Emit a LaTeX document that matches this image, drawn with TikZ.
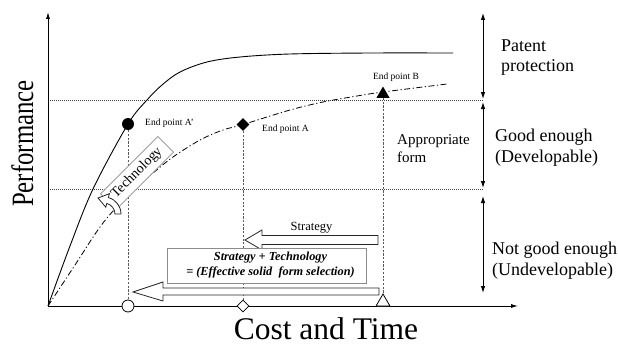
\documentclass[tikz,border=0pt]{standalone}
\usepackage{fontspec}
\setmainfont{Liberation Serif}
\usetikzlibrary{arrows.meta,shapes.geometric}
\begin{document}
\begin{tikzpicture}[x=1pt,y=-1pt,
  axis/.style={line width=0.9pt,-{Latex[length=7pt,width=4pt]}},
  guide/.style={black!75,line width=0.6pt,dash pattern=on 1pt off 1pt},
  vguide/.style={black!65,line width=0.8pt,dash pattern=on 2.2pt off 1.5pt},
  spanarrow/.style={line width=0.9pt,{Latex[length=7pt,width=4.5pt]}-{Latex[length=7pt,width=4.5pt]}},
  curveA/.style={line width=0.9pt},
  curveB/.style={line width=0.8pt,dash pattern=on 6pt off 2.5pt on 1.2pt off 2.5pt},
  fcirc/.style={circle,fill=black,inner sep=0pt,minimum size=12pt},
  ocirc/.style={circle,draw=black,fill=white,line width=0.8pt,inner sep=0pt,minimum size=12pt},
  fdiam/.style={diamond,fill=black,inner sep=0pt,minimum size=13pt},
  odiam/.style={diamond,draw=black,fill=white,line width=0.8pt,inner sep=0pt,minimum size=12pt},
  ftri/.style={regular polygon,regular polygon sides=3,fill=black,inner sep=0pt,minimum size=15pt},
  otri/.style={regular polygon,regular polygon sides=3,draw=black,fill=white,line width=0.8pt,inner sep=0pt,minimum size=16pt},
  blockarrow/.style={draw=black!85,fill=white,line width=0.8pt},
  graybox/.style={draw=black!45,fill=white,line width=0.7pt},
  lbl/.style={inner sep=0pt},
  small/.style={font=\fontsize{9.5}{11}\selectfont},
  side/.style={font=\fontsize{18}{21}\selectfont},
]
\useasboundingbox (0,0) rectangle (618,345);

% key points
\coordinate (O) at (48,306);
\coordinate (Ytop) at (48,12);
\coordinate (Xend) at (518,306);
\coordinate (g1l) at (48,100);  \coordinate (g1r) at (483,100);
\coordinate (g2l) at (48,189);  \coordinate (g2r) at (483,189);
\coordinate (r1t) at (483,13);  \coordinate (r1b) at (483,99);
\coordinate (r2t) at (483,102); \coordinate (r2b) at (483,188);
\coordinate (r3t) at (483,196); \coordinate (r3b) at (483,293);

% horizontal guides
\draw[guide] (g1l) -- (g1r);
\draw[guide] (g2l) -- (g2r);

% curves
\draw[curveA] plot[smooth,tension=0.55] coordinates {(48,306) (70,246) (93,189) (128,124) (147,100) (162,85) (180,72) (207,62) (240,57) (290,54) (370,53) (453,53)};
\draw[curveB] plot[smooth,tension=0.55] coordinates {(48,306) (75,265) (103,223) (133,190) (153,173) (173,157) (200,140) (223,130) (243,124.5) (290,110) (323,102) (357,96) (383,92) (447,84)};

% range arrows
\draw[spanarrow] (r1t) -- (r1b);
\draw[spanarrow] (r2t) -- (r2b);
\draw[spanarrow] (r3t) -- (r3b);

% axes
\draw[axis] (O) -- (Ytop);
\draw[axis] (O) -- (Xend);

% end point markers
\node[fcirc] (Ap) at (128,124) {};
\node[fdiam] (A) at (243,124.5) {};
\node[ftri] (B) at (383,94) {};
\node[ocirc] (Apb) at (128,306) {};
\node[odiam] (Ab) at (243,306) {};
\node[otri] (Bb) at (383,302) {};

% vertical guides
\draw[vguide] (Ap) -- (Apb);
\draw[vguide] (A) -- (Ab);
\draw[vguide] (B) -- (Bb);

% strategy arrow
\draw[blockarrow] (378,235.5) -- (262,235.5) -- (262,230) -- (245,240) -- (262,250) -- (262,244.5) -- (378,244.5) -- cycle;
\node[lbl,anchor=base,font=\fontsize{12.5}{15}\selectfont] (strat) at (311.5,230) {Strategy};

% combined box and arrow
\node[graybox,minimum width=199pt,minimum height=35pt,inner sep=0pt] (combo) at (266.5,265.5) {};
\node[lbl,align=center,font=\fontsize{12.3}{15}\selectfont\bfseries\itshape] (combotext) at (270.5,265.5) {Strategy + Technology\\= (Effective solid\ \ form selection)};
\draw[blockarrow] (379,288) -- (163,288) -- (163,282) -- (133,292) -- (163,301) -- (163,295) -- (379,295) -- cycle;

% technology box and curved arrow
\node[graybox,rotate=45,minimum width=81pt,minimum height=22pt,inner sep=0pt,font=\fontsize{14}{16}\selectfont] (tech) at (137,173) {Technology};
\draw[blockarrow] (121,214) arc[start angle=0,end angle=-75,radius=17] -- (109.4,193.7) -- (98,198) -- (105.8,207.2) -- (106.8,203.4) arc[start angle=-75,end angle=0,radius=11] -- cycle;

% end point labels
\node[lbl,small,anchor=base west] (labAp) at (145,125.7) {End point A'};
\node[lbl,small,anchor=base west] (labA) at (262,131) {End point A};
\node[lbl,small,anchor=base] (labB) at (396,79) {End point B};

% side labels
\node[lbl,side,anchor=base west] (pat1) at (501,52) {Patent};
\node[lbl,side,anchor=base west] (pat2) at (501,71.5) {protection};
\node[lbl,side,anchor=base west] (good1) at (495,141) {Good enough};
\node[lbl,side,anchor=base west] (good2) at (495,162) {(Developable)};
\node[lbl,side,anchor=base west] (bad1) at (492,254) {Not good enough};
\node[lbl,side,anchor=base west] (bad2) at (492,275) {(Undevelopable)};
\node[lbl,anchor=base west,font=\fontsize{15}{18}\selectfont] (app1) at (397,144) {Appropriate};
\node[lbl,anchor=base west,font=\fontsize{15}{18}\selectfont] (app2) at (397,162) {form};

% axis titles
\node[lbl,anchor=base,rotate=90,font=\fontsize{31}{36}\selectfont] (perf) at (33,143.5) {\scalebox{0.8}[1]{Performance}};
\node[lbl,anchor=base,font=\fontsize{31.5}{36}\selectfont] (cost) at (326,339.5) {Cost and Time};
\end{tikzpicture}
\end{document}
